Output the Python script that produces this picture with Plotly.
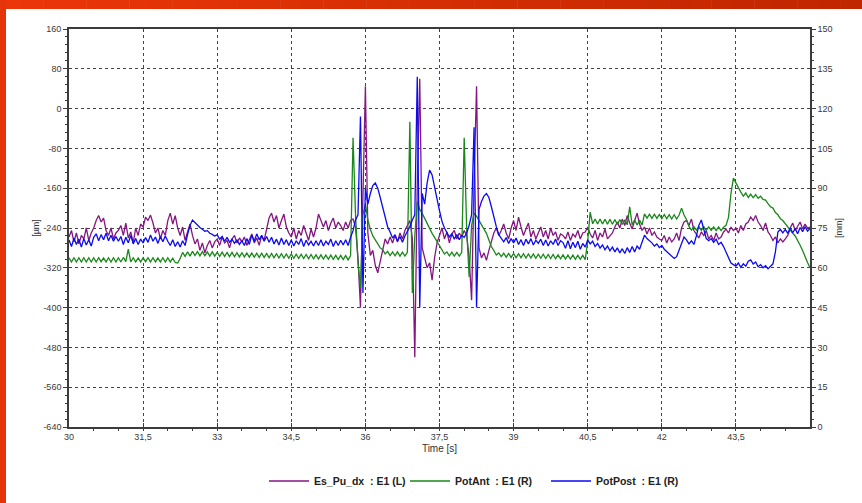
import plotly.graph_objects as go

# ---------------- data ----------------
t_start = 30.0
t_step = 0.05
n_samples = 301

es_pu_dx = [  # left axis, [µm]
    -258, -245, -268, -250, -272, -255, -262, -240, -265, -250,
    -240, -225, -215, -228, -220, -245, -255, -240, -262, -250,
    -245, -235, -255, -230, -260, -248, -270, -240, -255, -232,
    -238, -218, -225, -214, -230, -250, -240, -262, -245, -255,
    -225, -210, -232, -215, -240, -255, -238, -265, -248, -232,
    -255, -272, -262, -285, -270, -290, -275, -265, -280, -268,
    -262, -275, -258, -270, -265, -280, -262, -255, -270, -260,
    -268, -258, -275, -262, -252, -270, -260, -275, -255, -265,
    -245, -220, -210, -228, -215, -240, -225, -212, -238, -250,
    -258, -240, -262, -245, -255, -235, -250, -265, -242, -258,
    -240, -212, -225, -238, -225, -245, -230, -220, -240, -228,
    -235, -245, -228, -240, -225, -222, -238, -300, -400, -180,
    45, -250, -295, -285, -315, -330, -305, -280, -262, -272,
    -258, -270, -255, -268, -250, -262, -245, -235, -225, -260,
    -500, -150, 60, -280, -300, -320, -310, -345, -300, -270,
    -255, -240, -262, -248, -270, -252, -245, -262, -250, -258,
    -245, -255, -300, -385, -150, 45, -280, -300, -290, -305,
    -285, -265, -250, -240, -255, -245, -232, -250, -262, -240,
    -225, -245, -218, -238, -255, -242, -230, -258, -245, -262,
    -250, -238, -258, -245, -262, -240, -255, -248, -265, -252,
    -255, -262, -248, -265, -252, -258, -245, -262, -250, -248,
    -238, -252, -260, -245, -265, -250, -258, -242, -262, -255,
    -250, -238, -228, -240, -222, -235, -215, -230, -242, -225,
    -210, -232, -245, -238, -252, -240, -255, -248, -258, -262,
    -265, -255, -270, -258, -268, -262, -250, -265, -240, -228,
    -225, -235, -222, -245, -252, -260, -248, -255, -245, -262,
    -255, -265, -250, -262, -258, -248, -242, -250, -238, -245,
    -240, -250, -235, -245, -232, -228, -218, -225, -215, -228,
    -235, -245, -230, -248, -255, -265, -258, -270, -262, -268,
    -262, -255, -240, -230, -245, -235, -228, -242, -232, -240,
    -238,
]

pot_ant = [  # right axis, [mm]
    63.8, 62.2, 63.8, 62.2, 63.8, 62.2, 63.8, 62.2, 63.8, 62.2,
    63.8, 62.2, 63.8, 62.3, 63.7, 62.2, 63.8, 62.2, 63.8, 62.2,
    63.8, 62.2, 63.9, 62.3, 67.0, 62.2, 63.8, 62.2, 63.7, 62.2,
    63.8, 62.3, 63.8, 62.2, 63.8, 62.2, 63.7, 62.2, 63.8, 62.2,
    63.8, 62.2, 63.6, 62.0, 61.8, 63.5, 65.8, 64.3, 66.0, 64.4,
    66.2, 64.6, 66.1, 64.5, 66.1, 64.5, 66.0, 64.4, 66.0, 64.4,
    65.9, 64.3, 65.9, 64.3, 65.8, 64.2, 65.8, 64.2, 65.7, 64.1,
    65.7, 64.1, 65.6, 64.0, 65.6, 64.0, 65.5, 63.9, 65.5, 63.9,
    65.4, 63.8, 65.4, 63.8, 65.3, 63.7, 65.3, 63.7, 65.2, 63.6,
    65.2, 63.6, 65.1, 63.5, 65.1, 63.5, 65.0, 63.4, 65.0, 63.4,
    64.9, 63.3, 64.9, 63.3, 64.8, 63.2, 64.8, 63.2, 64.7, 63.1,
    64.7, 63.1, 64.6, 63.0, 64.6, 109.0, 80.0, 62.0, 52.5, 80.0,
    84.0, 78.0, 74.5, 72.0, 70.5, 69.2, 67.5, 66.8, 65.2, 66.2,
    64.6, 66.0, 64.5, 66.0, 64.4, 65.9, 64.4, 65.8, 115.0, 50.5,
    72.0, 85.0, 82.0, 80.5, 78.5, 77.0, 75.0, 73.0, 71.5, 70.0,
    68.0, 66.8, 65.2, 66.0, 64.5, 65.9, 64.4, 65.8, 64.4, 65.8,
    109.0, 75.0, 56.5, 76.0, 80.5, 79.5, 78.0, 76.0, 74.5, 73.0,
    70.5, 68.0, 66.5, 64.8, 65.6, 64.2, 65.5, 64.0, 65.4, 63.9,
    65.4, 63.8, 65.3, 63.8, 65.3, 63.7, 65.2, 63.7, 65.2, 63.6,
    65.1, 63.6, 65.1, 63.5, 65.0, 63.5, 65.0, 63.4, 64.9, 63.4,
    64.9, 63.3, 64.8, 63.3, 64.8, 63.2, 64.7, 63.2, 64.7, 63.1,
    70.0, 81.0, 76.6, 78.4, 76.5, 78.4, 76.5, 78.3, 76.4, 78.3,
    76.4, 78.2, 76.3, 78.2, 76.3, 78.1, 76.2, 83.0, 76.2, 78.0,
    76.1, 78.0, 76.1, 80.3, 78.7, 80.2, 78.6, 80.2, 78.6, 80.1,
    78.5, 80.1, 78.5, 80.0, 78.4, 80.0, 78.4, 79.9, 82.5, 79.9,
    78.2, 75.6, 74.2, 75.5, 74.2, 75.5, 74.1, 75.5, 74.1, 75.4,
    74.1, 75.4, 74.0, 75.4, 74.0, 75.3, 76.0, 79.0, 88.0, 93.8,
    92.0, 90.0, 88.5, 87.0, 88.2, 86.5, 87.8, 86.4, 87.6, 86.2,
    87.0, 85.8, 85.5, 84.2, 83.0, 82.5, 80.8, 80.0, 78.5, 77.8,
    76.5, 75.5, 74.0, 73.0, 72.0, 70.5, 68.5, 66.5, 64.0, 62.0,
    60.0,
]

pot_post = [  # right axis, [mm]
    70.5, 68.0, 71.2, 68.8, 70.8, 67.8, 71.0, 68.6, 70.6, 68.2,
    71.5, 72.8, 70.2, 72.5, 70.6, 73.0, 70.2, 72.3, 70.0, 71.8,
    70.0, 71.8, 68.8, 71.5, 69.4, 72.2, 69.0, 71.0, 68.8, 70.8,
    69.4, 71.4, 69.6, 72.4, 70.0, 71.6, 69.2, 71.8, 69.8, 72.0,
    70.0, 68.4, 70.6, 68.0, 69.8, 67.8, 70.2, 68.4, 72.5, 76.0,
    78.0, 77.0, 76.2, 75.2, 74.5, 73.8, 74.0, 73.0, 72.6, 72.0,
    72.4, 70.8, 71.8, 70.0, 71.5, 69.6, 70.8, 69.2, 70.5, 68.8,
    70.2, 68.4, 71.0, 68.8, 72.4, 70.0, 72.8, 70.6, 72.2, 70.0,
    71.8, 69.6, 71.5, 69.0, 70.8, 68.6, 71.2, 68.8, 70.6, 68.4,
    70.5, 68.2, 70.2, 68.8, 71.0, 68.0, 70.4, 68.6, 70.0, 68.2,
    70.2, 68.4, 70.6, 68.2, 70.0, 68.8, 70.8, 68.0, 70.2, 68.4,
    70.4, 68.6, 70.6, 68.4, 71.5, 74.0, 78.0, 80.0, 117.0, 50.5,
    90.0, 84.0, 88.0, 91.0, 92.0, 90.0, 86.5, 82.5, 78.5, 75.5,
    73.5, 71.2, 72.5, 70.0, 71.8, 69.6, 72.0, 73.5, 75.5, 78.0,
    80.0, 132.0, 45.0, 88.0, 84.0, 92.0, 96.8, 95.0, 91.0, 86.0,
    81.5, 77.5, 75.0, 73.5, 71.6, 72.8, 70.8, 72.5, 70.6, 72.2,
    71.5, 73.0, 76.0, 80.0, 113.0, 45.0, 82.0, 85.0, 87.0, 88.0,
    86.5, 83.0, 79.0, 75.5, 72.5, 71.0, 69.8, 71.4, 69.2, 71.0,
    69.4, 71.2, 68.8, 70.6, 68.4, 70.8, 69.0, 71.0, 68.6, 70.4,
    69.2, 70.8, 68.4, 70.5, 68.2, 70.2, 68.8, 70.8, 68.4, 70.2,
    69.5, 67.4, 70.2, 67.2, 69.6, 67.6, 70.0, 67.0, 69.2, 67.8,
    70.5, 69.0, 70.0, 68.0, 69.2, 67.4, 68.6, 66.8, 68.2, 66.4,
    67.8, 66.0, 67.5, 65.6, 67.2, 65.4, 67.6, 65.8, 68.0, 66.0,
    68.2, 67.0, 70.0, 72.3, 71.0, 70.2, 69.4, 68.2, 69.0, 67.6,
    68.4, 67.0, 66.2, 65.2, 64.6, 63.5, 64.2, 66.5, 69.0, 71.6,
    70.5, 69.0, 70.2, 68.8, 72.0, 76.0, 78.0, 74.0, 71.0, 70.2,
    71.0, 69.6, 70.8, 68.8, 69.6, 68.0, 66.0, 63.5, 61.8, 61.2,
    60.6, 61.8, 60.2, 61.5, 60.6, 62.5, 63.0, 61.4, 62.2, 60.4,
    61.2, 60.0, 60.8, 59.6, 60.6, 61.5, 66.0, 73.5, 74.5, 73.2,
    74.5, 73.0, 75.0, 73.2, 74.8, 72.8, 75.2, 73.6, 75.5, 73.8,
    74.8,
]

time_s = [round(t_start + t_step * i, 2) for i in range(n_samples)]

x_tickvals = [30, 31.5, 33, 34.5, 36, 37.5, 39, 40.5, 42, 43.5]
x_ticktext = ["30", "31,5", "33", "34,5", "36", "37,5", "39", "40,5", "42", "43,5"]
yl_tickvals = [160, 80, 0, -80, -160, -240, -320, -400, -480, -560, -640]
yl_ticktext = ["160", "80", "0", "-80", "-160", "-240", "-320", "-400", "-480", "-560", "-640"]
yr_tickvals = [150, 135, 120, 105, 90, 75, 60, 45, 30, 15, 0]
yr_ticktext = [str(v) for v in yr_tickvals]

series_names = [
    "<b>Es_Pu_dx\u00a0 : E1 (L)</b>",
    "<b>PotAnt\u00a0 : E1 (R)</b>",
    "<b>PotPost\u00a0 : E1 (R)</b>",
]

# ---------------- figure ----------------
FONT = "Liberation Sans, Arial, sans-serif"
W, H = 862, 503
ML, MR, MT, MB = 69, 52, 29, 76

fig = go.Figure()
fig.add_trace(go.Scatter(x=time_s, y=es_pu_dx, mode="lines", name=series_names[0],
                         line=dict(color="#84167F", width=1.3), yaxis="y"))
fig.add_trace(go.Scatter(x=time_s, y=pot_ant, mode="lines", name=series_names[1],
                         line=dict(color="#1A871A", width=1.3), yaxis="y2"))
fig.add_trace(go.Scatter(x=time_s, y=pot_post, mode="lines", name=series_names[2],
                         line=dict(color="#0A0AF5", width=1.3), yaxis="y2"))

axis_common = dict(
    showline=True, linecolor="#3c3c3c", linewidth=1.6,
    tickcolor="#3c3c3c", tickwidth=1,
    tickfont=dict(family=FONT, size=9, color="#3a3a3a"),
    zeroline=False, automargin=False,
)

fig.update_layout(
    width=W, height=H,
    margin=dict(l=ML, r=MR, t=MT, b=MB, pad=0, autoexpand=False),
    paper_bgcolor="white", plot_bgcolor="white",
    showlegend=True,
    legend=dict(orientation="h", xref="container", yref="container",
                x=264 / W, xanchor="left", y=1 - 481 / H, yanchor="middle",
                font=dict(family=FONT, size=10.5, color="#222"),
                entrywidth=86, entrywidthmode="pixels",
                itemwidth=40, tracegroupgap=0, bgcolor="rgba(0,0,0,0)"),
    xaxis=dict(
        range=[30, 45], tickmode="array", tickvals=x_tickvals, ticktext=x_ticktext,
        ticks="inside", ticklen=4,
        mirror=True, showgrid=True, gridcolor="#444", griddash="dot", gridwidth=1,
        minor=dict(tickmode="linear", tick0=30, dtick=0.5, ticklen=2, tickcolor="#3c3c3c", showgrid=False),
        title=dict(text="Time [s]", font=dict(family=FONT, size=10, color="#333"), standoff=4),
        **axis_common,
    ),
    yaxis=dict(
        range=[-640, 160], tickmode="array", tickvals=yl_tickvals, ticktext=yl_ticktext,
        ticks="outside", ticklen=4,
        showgrid=True, gridcolor="#444", griddash="dot", gridwidth=1,
        minor=dict(tickmode="linear", tick0=-640, dtick=16, ticklen=2, tickcolor="#3c3c3c", showgrid=False),
        title=dict(text="[µm]", font=dict(family=FONT, size=9, color="#333"), standoff=2),
        **axis_common,
    ),
    yaxis2=dict(
        range=[0, 150], overlaying="y", side="right", tickmode="array",
        tickvals=yr_tickvals, ticktext=yr_ticktext, showgrid=False,
        ticks="outside", ticklen=4,
        minor=dict(tickmode="linear", tick0=0, dtick=3, ticklen=2, tickcolor="#3c3c3c", showgrid=False),
        title=dict(text="[mm]", font=dict(family=FONT, size=9, color="#333"), standoff=4),
        **axis_common,
    ),
)

# decorative frame: orange-red gradient bar on top, strip on left
pw = W - ML - MR
ph = H - MT - MB
def px_x(px):
    return (px - ML) / pw
def px_y(py):
    return (H - MB - py) / ph

n_seg = 40
c0 = (234, 54, 8)
c1 = (192, 38, 0)
for k in range(n_seg):
    f = k / (n_seg - 1)
    col = "rgb(%d,%d,%d)" % tuple(int(round(a + (b - a) * f)) for a, b in zip(c0, c1))
    x0 = px_x(W * k / n_seg)
    x1 = px_x(W * (k + 1) / n_seg + 0.5)
    fig.add_shape(type="rect", xref="paper", yref="paper", x0=x0, x1=x1,
                  y0=px_y(9), y1=px_y(0), fillcolor=col, line=dict(width=0), layer="above")
fig.add_shape(type="rect", xref="paper", yref="paper", x0=px_x(0), x1=px_x(6),
              y0=px_y(H), y1=px_y(0), fillcolor="rgb(228,52,10)", line=dict(width=0), layer="above")

fig.write_html("out.html")
